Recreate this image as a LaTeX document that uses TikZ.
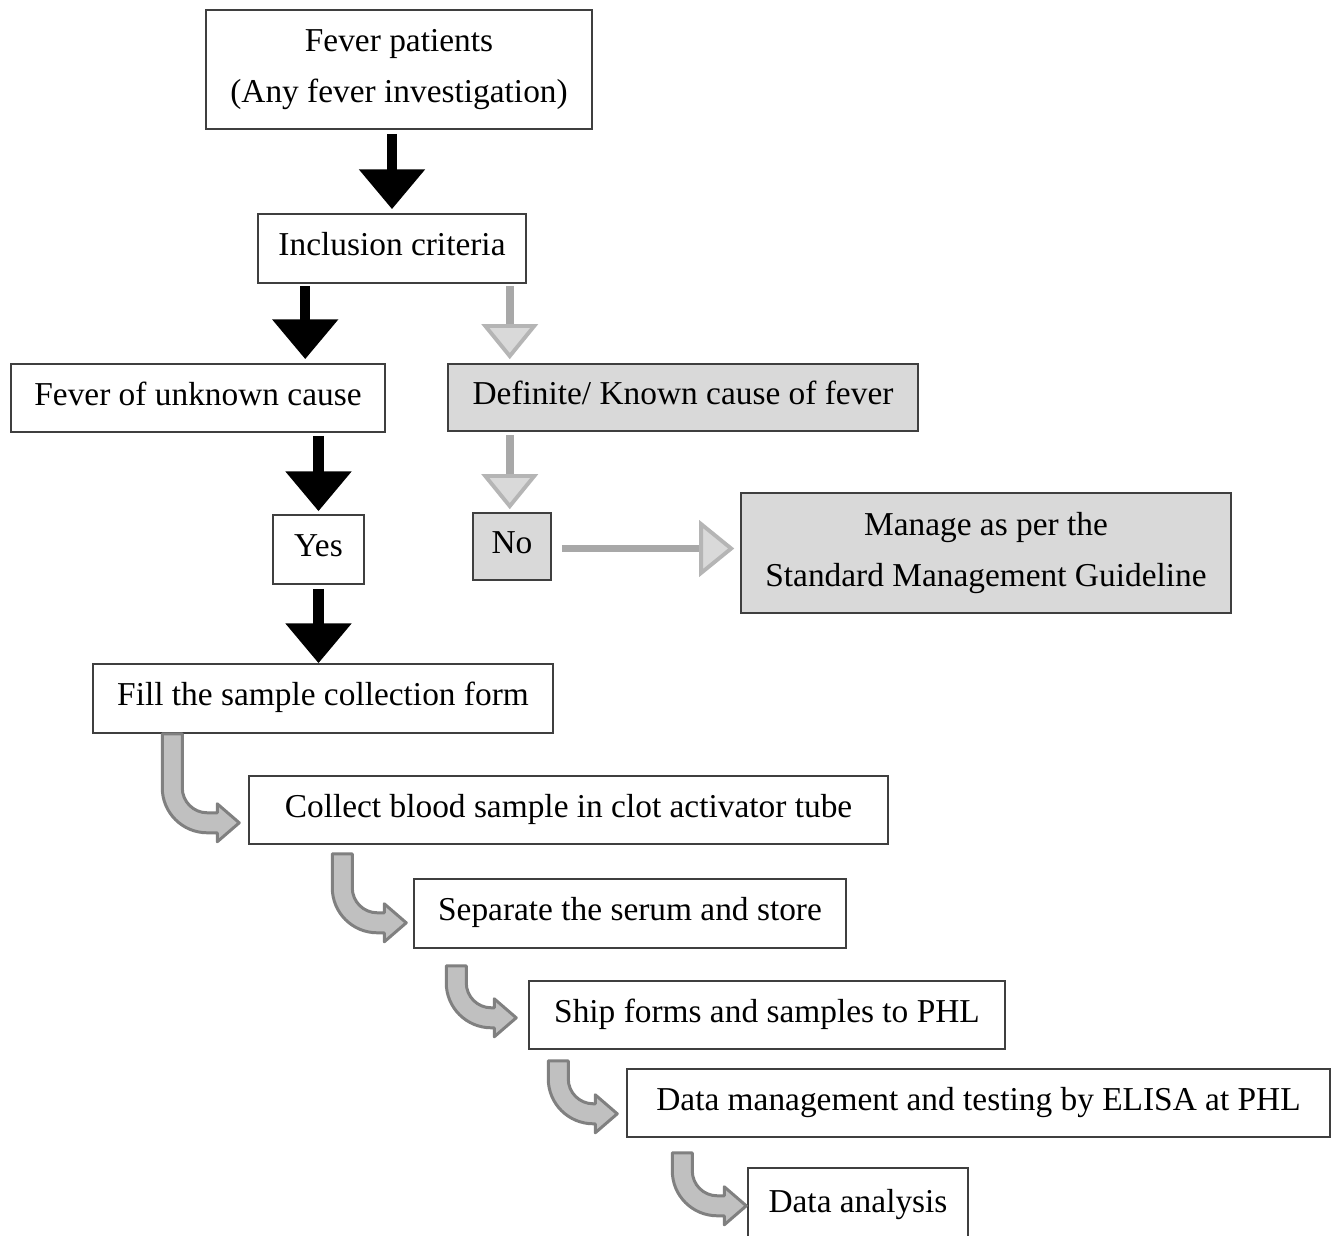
\documentclass[tikz,border=0pt]{standalone}
\usepackage{fontspec}
\setmainfont{Liberation Serif}
\usetikzlibrary{arrows.meta,calc}
\definecolor{boxline}{HTML}{3F3F3F}
\definecolor{boxgray}{HTML}{D9D9D9}
\definecolor{shaftgray}{HTML}{A8A8A8}
\definecolor{bentfill}{HTML}{C0C0C0}
\definecolor{bentline}{HTML}{808080}
% bent arrow: #1 top-left corner, #2 depth of tip, #3 reach of tip
\newcommand{\bentarr}[3]{
    \draw[bent, shift={(#1)}] (0,0) -- (0,#2-35)
        arc[start angle=180, end angle=90, radius=45]
        -- (#3-22,#2+10) -- (#3-22,#2+19) -- (#3,#2) -- (#3-22,#2-19)
        -- (#3-22,#2-10) -- (45,#2-10)
        arc[start angle=90, end angle=180, radius=25]
        -- (20,0) -- cycle;
}

\begin{document}
\begin{tikzpicture}[x=0.02cm,y=-0.02cm]
    \tikzstyle{box}=[draw=boxline, line width=0.9pt, inner sep=0pt, align=center,
        font=\fontsize{19}{29}\selectfont]
    \tikzstyle{one}=[text height=12pt, text depth=3.6pt]
    \tikzstyle{greybox}=[box, fill=boxgray]
    \tikzstyle{yesarr}=[line width=5.7pt, -{Triangle[length=22.7pt,width=36.3pt]}]
    \tikzstyle{noarr}=[draw=shaftgray, line width=4.5pt,
        -{Triangle[length=20pt,width=32pt,line width=2.2pt,fill=boxgray,color=shaftgray!85!white]}]
    \tikzstyle{bent}=[fill=bentfill, draw=bentline, line width=1.7pt, line join=round]
    \useasboundingbox (0,0) rectangle (1336,1235);

    % boxes
    \node[box, minimum width=7.72cm, minimum height=2.38cm] (fever) at (399,69.5)
        {Fever patients\\(Any fever investigation)};
    \node[box, one, minimum width=5.36cm, minimum height=1.38cm] (incl) at (392,248.5)
        {Inclusion criteria};
    \node[box, one, minimum width=7.48cm, minimum height=1.36cm] (unk) at (198,398)
        {Fever of unknown cause};
    \node[greybox, one, minimum width=9.4cm, minimum height=1.34cm] (known) at (683,397.5)
        {Definite/ Known cause of fever};
    \node[box, one, minimum width=1.82cm, minimum height=1.38cm] (yes) at (318.5,549.5)
        {Yes};
    \node[greybox, one, minimum width=1.56cm, minimum height=1.34cm] (no) at (512,546.5)
        {No};
    \node[greybox, minimum width=9.8cm, minimum height=2.4cm] (manage) at (986,553)
        {Manage as per the\\Standard Management Guideline};
    \node[box, one, minimum width=9.2cm, minimum height=1.38cm] (fill) at (323,698.5)
        {Fill the sample collection form};
    \node[box, one, minimum width=12.78cm, minimum height=1.36cm] (collect) at (568.5,810)
        {Collect blood sample in clot activator tube};
    \node[box, one, minimum width=8.64cm, minimum height=1.38cm] (separate) at (630,913.5)
        {Separate the serum and store};
    \node[box, one, minimum width=9.52cm, minimum height=1.36cm] (ship) at (767,1015)
        {Ship forms and samples to PHL};
    \node[box, one, minimum width=14.06cm, minimum height=1.36cm] (datam) at (978.5,1103)
        {Data management and testing by ELISA at PHL};
    \node[box, one, anchor=north, minimum width=4.4cm, minimum height=1.5cm] (analysis) at (858,1167)
        {Data analysis};

    % straight arrows
    \coordinate (c1) at ($(incl.south west)+(48,0)$);
    \coordinate (c2) at ($(incl.south east)+(-17,0)$);
    \draw[yesarr, shorten <=2.3pt, shorten >=2.3pt] (fever.south -| incl.north) -- (incl.north);
    \draw[yesarr, shorten <=1.2pt, shorten >=2.3pt] (c1) -- (c1 |- unk.north);
    \draw[noarr, shorten <=1.2pt, shorten >=2.3pt] (c2) -- (c2 |- known.north);
    \draw[yesarr, shorten <=1.7pt, shorten >=1.7pt] (unk.south -| yes.north) -- (yes.north);
    \draw[noarr, shorten <=2pt, shorten >=1.7pt] (known.south -| c2) -- (c2 |- no.north);
    \draw[noarr, shorten <=5.7pt, shorten >=3.4pt] ([yshift=-0.04cm]no.east) -- ([yshift=-0.04cm]no.east -| manage.west);
    \draw[yesarr, shorten <=2.3pt] (yes.south) -- (yes.south |- fill.north);

    % bent arrows
    \coordinate (b1) at ($(fill.south west)+(70,0)$);
    \coordinate (b2) at ($(collect.south west)+(84,9)$);
    \coordinate (b3) at ($(separate.south west)+(33,17)$);
    \coordinate (b4) at ($(ship.south west)+(20,11)$);
    \coordinate (b5) at ($(datam.south west)+(46,15)$);
    \bentarr{b1}{89}{77}
    \bentarr{b2}{69}{74}
    \bentarr{b3}{52}{70}
    \bentarr{b4}{53}{69}
    \bentarr{b5}{53}{74}
\end{tikzpicture}
\end{document}
